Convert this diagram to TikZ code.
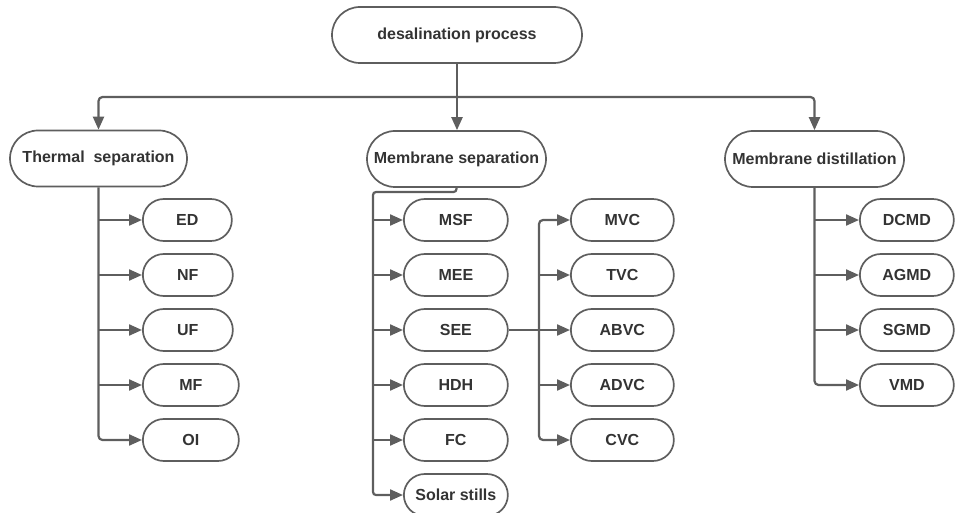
\documentclass[tikz,border=0pt]{standalone}
\usepackage{fontspec}
\setmainfont{Liberation Sans}
\usetikzlibrary{arrows.meta}
\definecolor{linegray}{HTML}{5E5E5E}
\definecolor{textgray}{HTML}{333333}
\tikzset{
  pill/.style={draw=linegray, line width=1.7pt, rounded corners=21pt, minimum height=42pt,
    inner sep=0pt, text=textgray, font=\fontsize{16}{19}\bfseries\selectfont},
  bigpill/.style={pill, rounded corners=28pt, minimum height=56pt},
  leaf/.style={pill, anchor=west},
  arr/.style={draw=linegray, line width=2.2pt, -{Triangle[length=13pt,width=11pt]}}
}

\begin{document}
\begin{tikzpicture}[x=1pt,y=-1pt]
   \useasboundingbox (0,0) rectangle (955,513);
   \node[bigpill, minimum width=250pt] (top) at (457,35) {desalination process};
   \node[bigpill, minimum width=177pt] (thermal) at (98.5,158.5) {Thermal~~separation};
   \node[bigpill, minimum width=179pt] (memsep) at (456.5,159) {Membrane separation};
   \node[bigpill, minimum width=179pt] (memdist) at (814.5,159) {Membrane distillation};

   \node[leaf, minimum width=89pt] (ED) at (142,220) {ED};
   \node[leaf, minimum width=90pt] (NF) at (142,275) {NF};
   \node[leaf, minimum width=90pt] (UF) at (142,330) {UF};
   \node[leaf, minimum width=96pt] (MF) at (142,385) {MF};
   \node[leaf, minimum width=96pt] (OI) at (142,440) {OI};

   \node[leaf, minimum width=104pt] (MSF) at (403,220) {MSF};
   \node[leaf, minimum width=104pt] (MEE) at (403,275) {MEE};
   \node[leaf, minimum width=104pt] (SEE) at (403,330) {SEE};
   \node[leaf, minimum width=104pt] (HDH) at (403,385) {HDH};
   \node[leaf, minimum width=104pt] (FC) at (403,440) {FC};
   \node[leaf, minimum width=104pt] (solar) at (403,495) {Solar stills};

   \node[leaf, minimum width=103pt] (MVC) at (570,220) {MVC};
   \node[leaf, minimum width=103pt] (TVC) at (570,275) {TVC};
   \node[leaf, minimum width=103pt] (ABVC) at (570,330) {ABVC};
   \node[leaf, minimum width=103pt] (ADVC) at (570,385) {ADVC};
   \node[leaf, minimum width=103pt] (CVC) at (570,440) {CVC};

   \node[leaf, minimum width=94pt] (DCMD) at (859,220) {DCMD};
   \node[leaf, minimum width=94pt] (AGMD) at (859,275) {AGMD};
   \node[leaf, minimum width=94pt] (SGMD) at (859,330) {SGMD};
   \node[leaf, minimum width=94pt] (VMD) at (859,385) {VMD};

   \coordinate (bus) at (457,97);
   \draw[arr] (top.south) -- (top.south |- memsep.north);
   \draw[arr, rounded corners=4pt] (bus) -| (thermal);
   \draw[arr, rounded corners=4pt] (bus) -| (memdist);

   \draw[arr, rounded corners=4pt] (thermal.south) |- (OI);
   \draw[arr] (thermal.south |- ED) -- (ED);
   \draw[arr] (thermal.south |- NF) -- (NF);
   \draw[arr] (thermal.south |- UF) -- (UF);
   \draw[arr] (thermal.south |- MF) -- (MF);

   \coordinate (msbus) at (373,192);
   \draw[arr, rounded corners=3pt] (memsep.south) |- (msbus) |- (solar);
   \draw[arr] (msbus |- MSF) -- (MSF);
   \draw[arr] (msbus |- MEE) -- (MEE);
   \draw[arr] (msbus |- SEE) -- (SEE);
   \draw[arr] (msbus |- HDH) -- (HDH);
   \draw[arr] (msbus |- FC) -- (FC);

   \coordinate (seebus) at (539,330);
   \draw[arr] (SEE) -- (ABVC);
   \draw[arr, rounded corners=4pt] (seebus) |- (MVC);
   \draw[arr, rounded corners=4pt] (seebus) |- (CVC);
   \draw[arr] (seebus |- TVC) -- (TVC);
   \draw[arr] (seebus |- ADVC) -- (ADVC);

   \draw[arr, rounded corners=4pt] (memdist.south) |- (VMD);
   \draw[arr] (memdist.south |- DCMD) -- (DCMD);
   \draw[arr] (memdist.south |- AGMD) -- (AGMD);
   \draw[arr] (memdist.south |- SGMD) -- (SGMD);
\end{tikzpicture}
\end{document}
